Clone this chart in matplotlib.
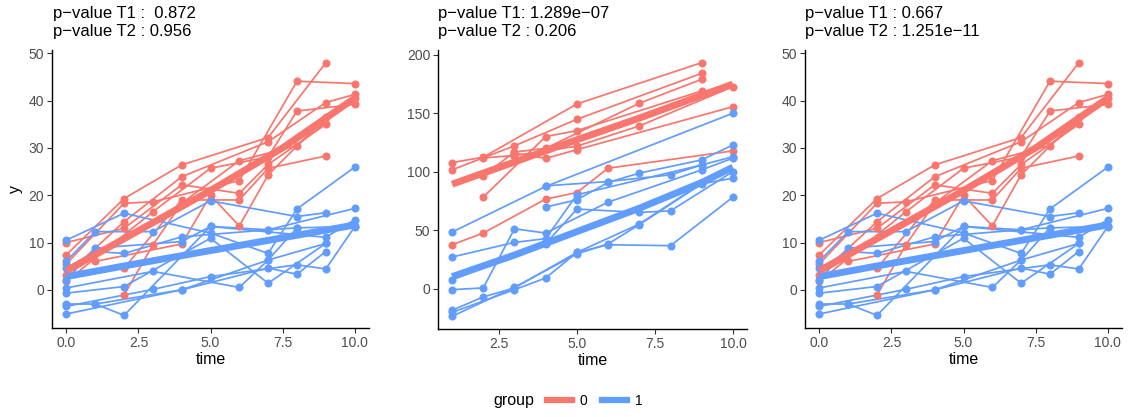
import matplotlib
matplotlib.use("Agg")
import matplotlib.pyplot as plt
from matplotlib.lines import Line2D
import numpy as np

plt.rcParams['font.family'] = ['Liberation Sans', 'DejaVu Sans']

RED = "#F8766D"
BLUE = "#619CFF"

# ---------------- Panel 1 / 3 data (time 0..10) ----------------
p1_red_times = [
    [0, 2, 4, 7, 9],
    [0, 2, 3, 6, 8, 10],
    [0, 2, 4, 7, 9, 10],
    [0, 3, 5, 7, 8, 10],
    [0, 2, 4, 6, 7, 9],
    [2, 4, 6, 7, 9],
    [2, 3, 4, 6, 8, 10],
    [1, 4, 5, 6, 7, 9],
]
p1_red_values = [
    [7.4, 19.3, 26.4, 32.2, 48.0],
    [5.5, 18.3, 18.6, 23.1, 44.1, 43.6],
    [3.2, 14.4, 23.9, 31.3, 39.6, 41.3],
    [1.8, 16.5, 25.7, 28.1, 37.8, 39.2],
    [10.0, 13.0, 22.2, 20.4, 26.5, 35.0],
    [4.6, 19.0, 19.0, 25.7, 28.3],
    [-1.1, 9.5, 18.3, 27.3, 30.5, 40.5],
    [6.0, 9.7, 20.0, 13.5, 24.3, 36.5],
]
p1_blue_times = [
    [0, 2, 5, 7, 8, 10],
    [0, 1, 3, 5, 8, 9],
    [0, 1, 2, 4, 7, 10],
    [0, 1, 4, 5, 9, 10],
    [0, 3, 6, 7, 8, 10],
    [0, 2, 5, 7, 9],
    [0, 1, 4, 7, 8, 9],
    [0, 3, 5, 8, 9, 10],
    [0, 4, 7, 9],
    [1, 2, 5, 7, 8],
]
p1_blue_values = [
    [10.5, 16.2, 12.0, 7.7, 17.1, 25.9],
    [6.1, 12.3, 12.3, 18.8, 15.5, 16.3],
    [4.6, 8.1, 7.7, 11.2, 12.7, 17.2],
    [2.1, 8.8, 10.2, 13.4, 11.1, 14.8],
    [0.4, 3.9, 0.5, 6.3, 13.1, 13.4],
    [-0.7, 0.7, 10.9, 1.4, 9.8],
    [-3.0, -3.0, 0.0, 4.6, 3.3, 8.1],
    [-3.5, 0.1, 2.8, 5.3, 4.4, 13.3],
    [-5.1, 0.0, 6.3, 9.8],
    [-3.0, -5.4, 13.4, 12.7, 13.1],
]
p1_fit_t = [0, 2.5, 5, 7.5, 10]
p1_fit_red = [4.0, 12.5, 21.0, 30.0, 40.5]
p1_fit_blue = [2.8, 5.6, 8.3, 11.0, 13.7]

# ---------------- Panel 2 data (time 1..10) ----------------
p2_red_times = [
    [1, 2, 5, 9],
    [1, 3, 5, 9],
    [2, 3, 4, 7, 9],
    [2, 3, 5, 7, 10],
    [3, 4, 5, 10],
    [2, 4, 5, 9],
    [1, 2, 4, 5, 6, 10],
]
p2_red_values = [
    [108.0, 112.6, 158.1, 193.4],
    [101.8, 122.3, 145.0, 184.3],
    [96.7, 117.0, 120.2, 158.7, 179.2],
    [112.0, 114.0, 122.0, 139.3, 172.9],
    [116.0, 111.6, 119.0, 155.8],
    [78.5, 130.2, 135.3, 169.2],
    [37.8, 47.8, 76.8, 82.4, 103.2, 118.0],
]
p2_blue_times = [
    [1, 4, 10],
    [1, 3, 4, 5, 9],
    [1, 2, 3, 4, 6, 9, 10],
    [1, 4, 5, 7, 8, 10],
    [1, 2, 3, 5, 6, 8, 10],
    [1, 3, 4, 5, 7, 9],
    [1, 3, 5, 6, 7, 9, 10],
    [4, 5, 6, 7, 9, 10],
    [4, 6, 8, 9, 10],
]
p2_blue_values = [
    [48.6, 87.6, 150.2],
    [27.3, 39.8, 43.0, 80.5, 106.0],
    [-0.6, 0.9, 51.4, 47.8, 74.2, 101.8, 111.8],
    [7.9, 38.7, 68.3, 65.4, 66.8, 100.3],
    [-18.2, -6.8, 0.9, 31.2, 37.8, 37.0, 78.5],
    [-20.0, -0.6, 9.4, 31.2, 55.5, 90.4],
    [-23.4, 1.5, 30.0, 38.5, 55.0, 89.8, 94.7],
    [70.0, 76.2, 91.0, 99.0, 110.3, 123.1],
    [88.1, 91.8, 97.5, 106.0, 113.0],
]
p2_fit_t = [1, 3, 5, 7, 9, 10]
p2_fit_red = [89.5, 108.5, 127.5, 146.0, 165.5, 175.0]
p2_fit_blue = [10.5, 29.0, 49.0, 69.0, 91.0, 104.0]

titles = [
    "p\u2212value T1 :  0.872\np\u2212value T2 : 0.956",
    "p\u2212value T1: 1.289e\u221207\np\u2212value T2 : 0.206",
    "p\u2212value T1 : 0.667\np\u2212value T2 : 1.251e\u221211",
]

W, H = 1128, 417
fig = plt.figure(figsize=(W / 100, H / 100), dpi=100)

def ax_at(l, r, t, b):
    return fig.add_axes([l / W, 1 - b / H, (r - l) / W, (b - t) / H])

axes = [ax_at(52, 369, 50, 328), ax_at(438, 747, 50, 329), ax_at(805, 1122, 50, 328)]
title_x = [53, 438, 805]

panels = [
    (p1_red_times, p1_red_values, p1_blue_times, p1_blue_values, p1_fit_t, p1_fit_red, p1_fit_blue),
    (p2_red_times, p2_red_values, p2_blue_times, p2_blue_values, p2_fit_t, p2_fit_red, p2_fit_blue),
    (p1_red_times, p1_red_values, p1_blue_times, p1_blue_values, p1_fit_t, p1_fit_red, p1_fit_blue),
]

for i, (ax, pdata) in enumerate(zip(axes, panels)):
    rt, rv, bt, bv, ft, fr, fb = pdata
    for tt, vv in zip(rt, rv):
        ax.plot(tt, vv, color=RED, lw=1.25, zorder=2)
        ax.plot(tt, vv, 'o', color=RED, ms=5.8, mec=RED, mew=0, zorder=3)
    for tt, vv in zip(bt, bv):
        ax.plot(tt, vv, color=BLUE, lw=1.25, zorder=2)
        ax.plot(tt, vv, 'o', color=BLUE, ms=5.8, mec=BLUE, mew=0, zorder=3)
    ax.plot(ft, fb, color=BLUE, lw=5, zorder=4, solid_capstyle='butt')
    ax.plot(ft, fr, color=RED, lw=5, zorder=5, solid_capstyle='butt')

    for s in ['top', 'right']:
        ax.spines[s].set_visible(False)
    for s in ['left', 'bottom']:
        ax.spines[s].set_linewidth(1.0)
        ax.spines[s].set_color('black')
    ax.tick_params(axis='both', labelsize=10, labelcolor='#4D4D4D', color='#333333',
                   length=3.5, width=0.8, pad=2)
    if i == 1:
        ax.set_xlim(0.55, 10.45)
        ax.set_ylim(-34.2, 204.2)
        ax.set_xticks([2.5, 5.0, 7.5, 10.0])
        ax.set_xticklabels(["2.5", "5.0", "7.5", "10.0"])
        ax.set_yticks([0, 50, 100, 150, 200])
    else:
        ax.set_xlim(-0.5, 10.5)
        ax.set_ylim(-8.07, 50.7)
        ax.set_xticks([0, 2.5, 5.0, 7.5, 10.0])
        ax.set_xticklabels(["0.0", "2.5", "5.0", "7.5", "10.0"])
        ax.set_yticks([0, 10, 20, 30, 40, 50])
    ax.set_xlabel("time", fontsize=11.5, labelpad=2)
    if i == 0:
        ax.set_ylabel("y", fontsize=11.5, labelpad=4)
    fig.text(title_x[i] / W, 1 - 6 / H, titles[i], ha='left', va='top',
             fontsize=12, linespacing=1.25)

# legend
fig.text(493 / W, 1 - 401 / H, "group", fontsize=11.5, ha='left', va='center')
handles = [Line2D([], [], color=RED, lw=4.5), Line2D([], [], color=BLUE, lw=4.5)]
fig.legend(handles, ["0", "1"], ncol=2, loc='center left',
           bbox_to_anchor=(541 / W, 1 - 401 / H), frameon=False, fontsize=10,
           handlelength=1.8, handletextpad=0.6, columnspacing=1.0, borderaxespad=0)

fig.savefig("out.png", dpi=100)
